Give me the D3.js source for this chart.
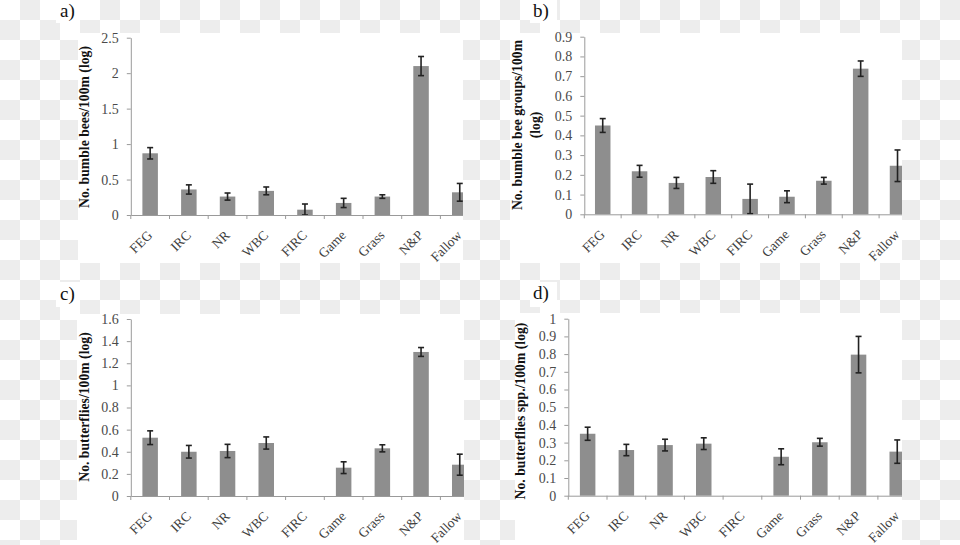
<!DOCTYPE html>
<html>
<head>
<meta charset="utf-8">
<style>
body { margin: 0; background: #fff; }
svg { display: block; }
</style>
</head>
<body>
<script src="https://cdn.jsdelivr.net/npm/d3@7"></script>
<script>
// categories on the x axis (same for all four panels)
var categories = ["FEG", "IRC", "NR", "WBC", "FIRC", "Game", "Grass", "N&P", "Fallow"];

// a) bumble bees
var beesMean = [0.87, 0.36, 0.26, 0.34, 0.075, 0.17, 0.26, 2.10, 0.32];
var beesErr  = [0.08, 0.065, 0.05, 0.055, 0.08, 0.065, 0.025, 0.135, 0.125];
var ticksA   = [0, 0.5, 1, 1.5, 2, 2.5];

// b) bumble bee groups
var groupsMean = [0.45, 0.218, 0.159, 0.189, 0.078, 0.089, 0.17, 0.738, 0.246];
var groupsErr  = [0.035, 0.03, 0.028, 0.032, 0.075, 0.03, 0.017, 0.039, 0.08];
var ticksB     = [0, 0.1, 0.2, 0.3, 0.4, 0.5, 0.6, 0.7, 0.8, 0.9];

// c) butterflies (no FIRC value)
var butterflyMean = [0.527, 0.40, 0.407, 0.479, null, 0.256, 0.431, 1.302, 0.283];
var butterflyErr  = [0.062, 0.057, 0.06, 0.055, null, 0.053, 0.032, 0.04, 0.095];
var ticksC        = [0, 0.2, 0.4, 0.6, 0.8, 1, 1.2, 1.4, 1.6];

// d) butterfly species (no FIRC value)
var sppMean = [0.35, 0.258, 0.286, 0.294, null, 0.22, 0.302, 0.797, 0.249];
var sppErr  = [0.037, 0.032, 0.033, 0.033, null, 0.045, 0.022, 0.103, 0.066];
var ticksD  = [0, 0.1, 0.2, 0.3, 0.4, 0.5, 0.6, 0.7, 0.8, 0.9, 1];

var width = 960, height = 545;
var serif = '"Liberation Serif", "Times New Roman", serif';

var svg = d3.select('body').append('svg')
  .attr('width', width)
  .attr('height', height);

// transparent-image checkerboard behind everything
var defs = svg.append('defs');
var pat = defs.append('pattern')
  .attr('id', 'checker')
  .attr('width', 40).attr('height', 40)
  .attr('patternUnits', 'userSpaceOnUse');
pat.append('rect').attr('width', 40).attr('height', 40).attr('fill', '#fff');
pat.append('rect').attr('x', 20).attr('width', 20).attr('height', 20).attr('fill', '#ededed');
pat.append('rect').attr('y', 20).attr('width', 20).attr('height', 20).attr('fill', '#ededed');
svg.append('rect').attr('width', width).attr('height', height).attr('fill', 'url(#checker)');

var panels = [
  { id: 'a', letter: 'a)', means: beesMean, errs: beesErr, ticks: ticksA,
    title: ['No. bumble bees/100m (log)'],
    box: [78, 33, 385, 230], x0: 130.8, step: 38.7, y0: 215, yTop: 37.7,
    lbox: [56, 0, 24, 23], lx: 60, ly: 17, tx: [84], ty: 127 },
  { id: 'b', letter: 'b)', means: groupsMean, errs: groupsErr, ticks: ticksB,
    title: ['No. bumble bee groups/100m', '(log)'],
    box: [510, 33, 392, 230], x0: 584.3, step: 36.85, y0: 214.3, yTop: 36.7,
    lbox: [530, 0, 27, 23], lx: 533, ly: 17, tx: [517, 535], ty: 125 },
  { id: 'c', letter: 'c)', means: butterflyMean, errs: butterflyErr, ticks: ticksC,
    title: ['No. butterflies/100m (log)'],
    box: [77, 314, 387, 231], x0: 130.8, step: 38.7, y0: 496, yTop: 319,
    lbox: [56, 282, 24, 25], lx: 60, ly: 300, tx: [84], ty: 407 },
  { id: 'd', letter: 'd)', means: sppMean, errs: sppErr, ticks: ticksD,
    title: ['No. butterflies spp./100m (log)'],
    box: [515, 313, 387, 232], x0: 568.3, step: 38.7, y0: 495.7, yTop: 318.7,
    lbox: [530, 282, 27, 25], lx: 533, ly: 299, tx: [520], ty: 411 }
];

panels.forEach(drawPanel);

function drawPanel(p) {
  var g = svg.append('g');

  g.append('rect')
    .attr('x', p.box[0]).attr('y', p.box[1])
    .attr('width', p.box[2]).attr('height', p.box[3])
    .attr('fill', '#fff');

  g.append('rect')
    .attr('x', p.lbox[0]).attr('y', p.lbox[1])
    .attr('width', p.lbox[2]).attr('height', p.lbox[3])
    .attr('fill', '#fff');

  g.append('text')
    .attr('x', p.lx).attr('y', p.ly)
    .attr('font-family', serif)
    .attr('font-size', 19)
    .attr('fill', '#111')
    .text(p.letter);

  // the original picture is cropped at the right edge of each panel
  defs.append('clipPath').attr('id', 'clip-' + p.id)
    .append('rect')
    .attr('x', p.box[0]).attr('y', p.box[1])
    .attr('width', p.box[2]).attr('height', p.box[3]);
  var inner = g.append('g').attr('clip-path', 'url(#clip-' + p.id + ')');

  var x = d3.scaleBand()
    .domain(categories)
    .range([p.x0, p.x0 + p.step * categories.length]);
  var y = d3.scaleLinear()
    .domain([0, p.ticks[p.ticks.length - 1]])
    .range([p.y0, p.yTop]);

  var rows = categories.map(function(c, i) {
    return { cat: c, mean: p.means[i], err: p.errs[i] };
  }).filter(function(d) { return d.mean != null; });

  var barW = 15.5;

  inner.append('g')
    .selectAll('rect')
    .data(rows)
    .enter()
    .append('rect')
    .attr('x', function(d) { return x(d.cat) + (x.bandwidth() - barW) / 2; })
    .attr('y', function(d) { return y(d.mean); })
    .attr('width', barW)
    .attr('height', function(d) { return p.y0 - y(d.mean); })
    .attr('fill', '#8e8e8e');

  // error bars
  var eb = inner.append('g')
    .selectAll('g')
    .data(rows)
    .enter()
    .append('g')
    .attr('stroke', '#222')
    .attr('stroke-width', 1.6);
  eb.append('line')
    .attr('x1', function(d) { return x(d.cat) + x.bandwidth() / 2; })
    .attr('x2', function(d) { return x(d.cat) + x.bandwidth() / 2; })
    .attr('y1', function(d) { return y(d.mean + d.err); })
    .attr('y2', function(d) { return y(Math.max(0, d.mean - d.err)); });
  [1, -1].forEach(function(s) {
    eb.append('line')
      .attr('x1', function(d) { return x(d.cat) + x.bandwidth() / 2 - 3; })
      .attr('x2', function(d) { return x(d.cat) + x.bandwidth() / 2 + 3; })
      .attr('y1', function(d) { return y(Math.max(0, d.mean + s * d.err)); })
      .attr('y2', function(d) { return y(Math.max(0, d.mean + s * d.err)); });
  });

  // x axis: line plus ticks between categories
  var xAxis = inner.append('g')
    .attr('transform', 'translate(0,' + p.y0 + ')')
    .call(d3.axisBottom(x).tickSize(0).tickSizeOuter(0).tickFormat(''));
  xAxis.select('.domain').attr('stroke', '#9a9a9a');
  inner.append('g')
    .selectAll('line')
    .data(categories)
    .enter()
    .append('line')
    .attr('x1', function(c) { return x(c); })
    .attr('x2', function(c) { return x(c); })
    .attr('y1', p.y0)
    .attr('y2', p.y0 + 4)
    .attr('stroke', '#9a9a9a');

  inner.append('g')
    .selectAll('text')
    .data(categories)
    .enter()
    .append('text')
    .attr('transform', function(c) {
      return 'translate(' + (x(c) + x.bandwidth() / 2 + 3) + ',' + (p.y0 + 21) + ') rotate(-45)';
    })
    .attr('text-anchor', 'end')
    .attr('font-family', serif)
    .attr('font-size', 13.5)
    .attr('fill', '#404040')
    .text(function(c) { return c; });

  // y axis
  var yAxis = g.append('g')
    .attr('transform', 'translate(' + p.x0 + ',0)')
    .call(d3.axisLeft(y)
      .tickValues(p.ticks)
      .tickFormat(d3.format('~g'))
      .tickSize(4)
      .tickSizeOuter(0)
      .tickPadding(8));
  yAxis.attr('font-family', serif).attr('font-size', 14);
  yAxis.select('.domain').attr('stroke', '#9a9a9a');
  yAxis.selectAll('.tick line').attr('stroke', '#9a9a9a');
  yAxis.selectAll('.tick text').attr('fill', '#4a4a4a');

  // y axis title
  var title = g.append('text')
    .attr('transform', 'translate(0,' + p.ty + ') rotate(-90)')
    .attr('text-anchor', 'middle')
    .attr('font-family', serif)
    .attr('font-size', 13.7)
    .attr('font-weight', 'bold')
    .attr('fill', '#111');
  p.title.forEach(function(line, i) {
    title.append('tspan')
      .attr('x', 0)
      .attr('y', p.tx[i])
      .attr('dy', '0.35em')
      .text(line);
  });
}
</script>
</body>
</html>
